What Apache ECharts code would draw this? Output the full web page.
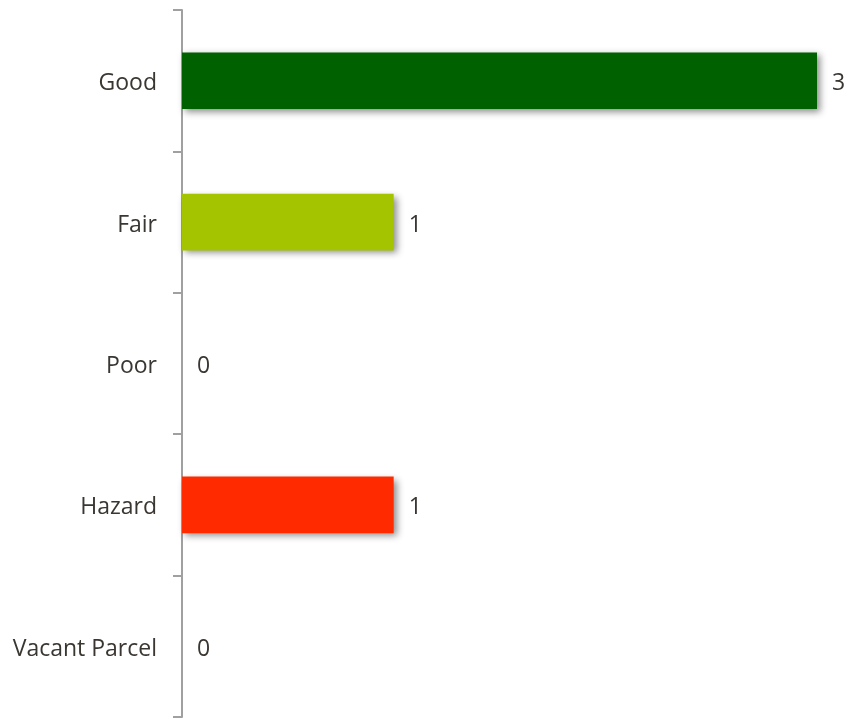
<!DOCTYPE html>
<html><head><meta charset="utf-8">
<script src="https://cdn.jsdelivr.net/npm/echarts@6/dist/echarts.min.js"></script>
<style>html,body{margin:0;padding:0;background:#fff}#c{width:850px;height:719px}</style>
</head><body><div id="c"></div>
<script>
const categories = ["Good", "Fair", "Poor", "Hazard", "Vacant Parcel"];
const values = [3, 1, 0, 1, 0];
const colors = ["#006100", "#a5c400", "#ffc000", "#ff2a00", "#7f7f7f"];

const txt = {fontFamily: 'Open Sans', fontSize: 23, color: '#3a3632', padding: [6, 0, 0, 0]};
const chart = echarts.init(document.getElementById('c'), null, {renderer: 'canvas'});
chart.setOption({
  animation: false,
  grid: {left: 182, right: 33, top: 10, bottom: 2, containLabel: false},
  xAxis: {type: 'value', min: 0, max: 3, show: false},
  yAxis: {
    type: 'category', data: categories, inverse: true,
    axisLine: {show: true, lineStyle: {color: '#a0a0a0', width: 2}},
    axisTick: {show: true, length: 9, lineStyle: {color: '#a0a0a0', width: 2}},
    axisLabel: {margin: 25, formatter: '{a|{value}}', rich: {a: txt}}
  },
  series: [{
    type: 'bar', barWidth: '40%',
    data: values.map((v, i) => ({value: v, itemStyle: {color: colors[i]}})),
    itemStyle: {shadowBlur: 7, shadowOffsetX: 3, shadowOffsetY: 3, shadowColor: 'rgba(0,0,0,0.45)'},
    label: {show: true, position: 'right', distance: 15, formatter: '{a|{c}}', rich: {a: txt}}
  }]
});
</script></body></html>
